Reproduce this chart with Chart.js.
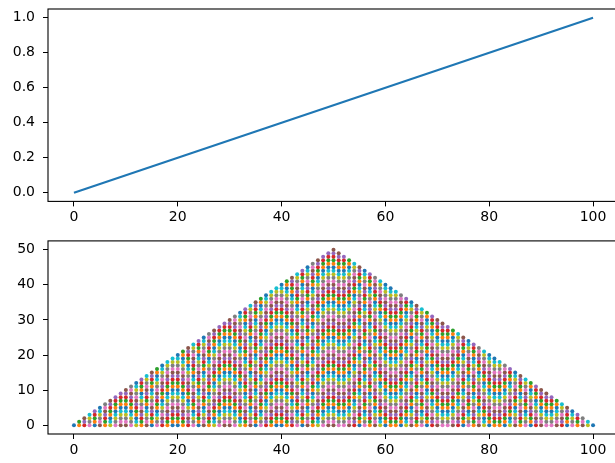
<!DOCTYPE html>
<html>
<head>
<meta charset="utf-8">
<script src="https://cdn.jsdelivr.net/npm/chart.js@4.4.0/dist/chart.umd.min.js"></script>
<style>
  html, body { margin: 0; padding: 0; background: #fff; overflow: hidden; width: 615px; height: 463px; }
  canvas { position: absolute; left: 0; }
  #lineaChart { top: 0; }
  #triChart { top: 232px; }
</style>
</head>
<body>
<canvas id="lineaChart" width="640" height="232"></canvas>
<canvas id="triChart" width="640" height="231"></canvas>
<script>
// ---------------- datos ----------------
// linea de arriba (de 0,0 a 100,1)
const lineaX = [0, 100];
const lineaY = [0, 1];

// ticks
const ticksX = [0, 20, 40, 60, 80, 100];
const ticksYArriba = [0, 0.2, 0.4, 0.6, 0.8, 1.0];
const ticksYAbajo = [0, 10, 20, 30, 40, 50];

// triangulo: altura maxima de cada columna x = 0..100
const columnasX = [];
for (let i = 0; i <= 100; i++) columnasX.push(i);
const alturas = [
  0, 1, 2, 3, 4, 5, 6, 7, 8, 9,
  10, 11, 12, 13, 14, 15, 16, 17, 18, 19,
  20, 21, 22, 23, 24, 25, 26, 27, 28, 29,
  30, 31, 32, 33, 34, 35, 36, 37, 38, 39,
  40, 41, 42, 43, 44, 45, 46, 47, 48, 49,
  50,
  49, 48, 47, 46, 45, 44, 43, 42, 41, 40,
  39, 38, 37, 36, 35, 34, 33, 32, 31, 30,
  29, 28, 27, 26, 25, 24, 23, 22, 21, 20,
  19, 18, 17, 16, 15, 14, 13, 12, 11, 10,
  9, 8, 7, 6, 5, 4, 3, 2, 1, 0
];

const tab10 = ['#1f77b4', '#ff7f0e', '#2ca02c', '#d62728', '#9467bd',
               '#8c564b', '#e377c2', '#7f7f7f', '#bcbd22', '#17becf'];

// cada punto es una llamada a scatter -> el color va rotando
const puntos = [];
const colores = [];
columnasX.forEach((x, i) => {
  for (let y = 0; y <= alturas[i]; y++) {
    colores.push(tab10[puntos.length % 10]);
    puntos.push({ x: x, y: y });
  }
});

// ---------------- estilos comunes ----------------
Chart.defaults.font.family = 'DejaVu Sans';
Chart.defaults.font.size = 14;
Chart.defaults.color = '#000';

const marco = {
  id: 'marco',
  afterDraw(chart) {
    const a = chart.chartArea, ctx = chart.ctx;
    ctx.save();
    ctx.strokeStyle = '#000';
    ctx.lineWidth = 1.1;
    ctx.strokeRect(a.left, a.top, a.right - a.left, a.bottom - a.top);
    ctx.restore();
  }
};

function sinPadding(s) {
  s.paddingTop = 0; s.paddingBottom = 0; s.paddingLeft = 0; s.paddingRight = 0;
}

function ejeX(altura) {
  return {
    type: 'linear', min: -5, max: 105,
    afterBuildTicks: s => { s.ticks = ticksX.map(v => ({ value: v })); },
    afterFit: s => { s.height = altura; sinPadding(s); },
    grid: { drawOnChartArea: false, tickLength: 5, color: '#000', lineWidth: 1 },
    border: { display: false },
    ticks: { padding: 3, maxRotation: 0, autoSkip: false }
  };
}

function ejeY(min, max, ticks, fmt) {
  return {
    type: 'linear', min: min, max: max,
    afterBuildTicks: s => { s.ticks = ticks.map(v => ({ value: v })); },
    afterFit: s => { s.width = 48; sinPadding(s); },
    grid: { drawOnChartArea: false, tickLength: 5, color: '#000', lineWidth: 1 },
    border: { display: false },
    ticks: { padding: 8, autoSkip: false, callback: fmt }
  };
}

// ---------------- grafica de arriba ----------------
new Chart(document.getElementById('lineaChart'), {
  type: 'scatter',
  data: {
    datasets: [{
      data: lineaX.map((x, i) => ({ x: x, y: lineaY[i] })),
      showLine: true,
      borderColor: '#1f77b4',
      borderWidth: 2.1,
      pointRadius: 0
    }]
  },
  options: {
    responsive: false,
    animation: false,
    layout: { padding: { left: 0, right: 21, top: 9, bottom: 0 } },
    plugins: { legend: { display: false }, tooltip: { enabled: false } },
    scales: {
      x: ejeX(30.6),
      y: ejeY(-0.05, 1.05, ticksYArriba, v => v.toFixed(1))
    }
  },
  plugins: [marco]
});

// ---------------- grafica de abajo ----------------
new Chart(document.getElementById('triChart'), {
  type: 'scatter',
  data: {
    datasets: [{
      data: puntos,
      pointBackgroundColor: colores,
      pointBorderWidth: 0,
      pointRadius: 2
    }]
  },
  options: {
    responsive: false,
    animation: false,
    layout: { padding: { left: 0, right: 21, top: 8.9, bottom: 0 } },
    plugins: { legend: { display: false }, tooltip: { enabled: false } },
    scales: {
      x: ejeX(29),
      y: ejeY(-2.5, 52.5, ticksYAbajo, v => String(v))
    }
  },
  plugins: [marco]
});
</script>
</body>
</html>
